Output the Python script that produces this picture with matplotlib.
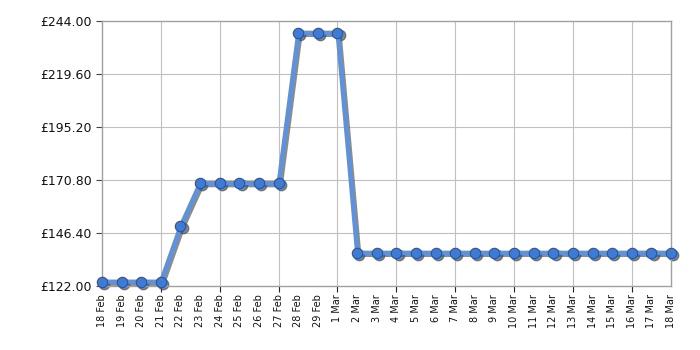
import matplotlib
matplotlib.use("Agg")
import matplotlib.pyplot as plt
from matplotlib.transforms import offset_copy

# price history
dates = ["18 Feb", "19 Feb", "20 Feb", "21 Feb", "22 Feb", "23 Feb", "24 Feb", "25 Feb",
         "26 Feb", "27 Feb", "28 Feb", "29 Feb", "1 Mar", "2 Mar", "3 Mar", "4 Mar",
         "5 Mar", "6 Mar", "7 Mar", "8 Mar", "9 Mar", "10 Mar", "11 Mar", "12 Mar",
         "13 Mar", "14 Mar", "15 Mar", "16 Mar", "17 Mar", "18 Mar"]
prices = [123.99, 123.99, 123.99, 123.99, 149.50, 169.40, 169.40, 169.40,
          169.40, 169.40, 238.60, 238.60, 238.60, 137.30, 137.30, 137.30,
          137.30, 137.30, 137.30, 137.30, 137.30, 137.30, 137.30, 137.30,
          137.30, 137.30, 137.30, 137.30, 137.30, 137.30]
yticks = [122.00, 146.40, 170.80, 195.20, 219.60, 244.00]

fig = plt.figure(figsize=(7, 3.5), dpi=100)
ax = fig.add_axes([0.1457, 0.183, 0.813, 0.757])

x = list(range(len(dates)))

# drop shadow, shifted down-right
sh = offset_copy(ax.transData, fig=fig, x=1.6, y=-1.6, units="points")
ax.plot(x, prices, color="#707070", lw=3, alpha=0.8, transform=sh, zorder=2, clip_on=False,
        solid_joinstyle="round")
ax.plot(x, prices, ls="none", marker="o", ms=7.5, mfc="#555555", mec="#555555", alpha=0.7,
        transform=sh, zorder=2, clip_on=False)

ax.plot(x, prices, color="#5b93e0", lw=3, zorder=3, clip_on=False, solid_joinstyle="round")
ax.plot(x, prices, ls="none", marker="o", ms=7.5, mfc="#3f7bd4", mec="#24569e", mew=0.8,
        zorder=4, clip_on=False)

ax.set_xlim(0, len(dates) - 1)
ax.set_ylim(122, 244)
ax.set_yticks(yticks)
ax.set_yticklabels(["£%.2f" % v for v in yticks], fontsize=9, color="#111111")

ax.set_xticks(x)
ax.set_xticklabels(dates, rotation=90, fontsize=7, color="#111111")
ax.tick_params(axis="x", length=0, pad=6)
ax.tick_params(axis="y", length=4, color="#444444")

# major vertical grid every 3 days
major = list(range(3, len(dates), 3))
for i in major:
    ax.axvline(i, color="#c0c0c0", lw=0.8, zorder=1)
for v in yticks[1:-1]:
    ax.axhline(v, color="#c0c0c0", lw=0.8, zorder=1)
sec = ax.secondary_xaxis("bottom")
sec.set_xticks(major)
sec.set_xticklabels([])
sec.tick_params(length=4, color="#222222")
sec.spines["bottom"].set_visible(False)

for s in ax.spines.values():
    s.set_color("#a0a0a0")
    s.set_linewidth(1)

fig.savefig("out.png", dpi=100)
